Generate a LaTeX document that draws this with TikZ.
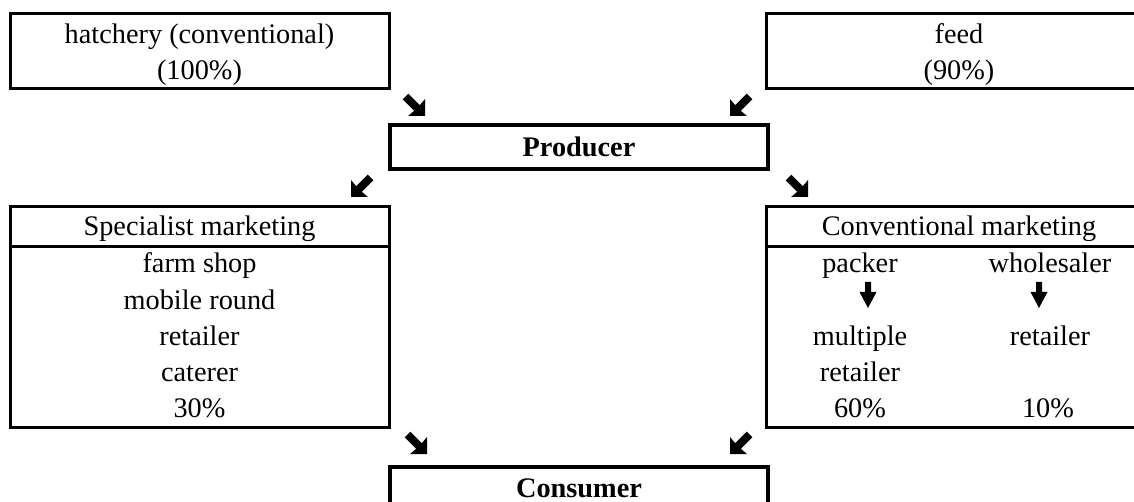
\documentclass[tikz,border=0pt]{standalone}
\usepackage{fontspec}
\setmainfont{Liberation Serif}
\begin{document}
\begin{tikzpicture}[x=1pt,y=-1pt,
  box/.style={draw, line width=3pt, rectangle, inner sep=0pt},
  bbox/.style={draw, line width=4.5pt, rectangle, inner sep=0pt},
  txt/.style={anchor=base, inner sep=0pt, font=\fontsize{28.3}{34}\selectfont},
  btxt/.style={anchor=base, inner sep=0pt, font=\fontsize{28.3}{34}\selectfont\bfseries},
  pics/darr/.style={code={\fill[black] (5.3,-0.3) -- (16.8,11.2) -- (22,5) -- (22,22) -- (5,22) -- (11.2,16.8) -- (-0.3,5.3) -- cycle;}},
  pics/varr/.style={code={\fill[black] (-3,0) -- (3,0) -- (3,10) -- (8.5,10) -- (0,26) -- (-8.5,10) -- (-3,10) -- cycle;}}
]
\useasboundingbox (0,0) rectangle (1134,502);
\fill[white] (0,0) rectangle (1134,502);
\clip (0,0) rectangle (1134,502);

% boxes
\node[box, minimum width=379pt, minimum height=75pt] (hatch) at (199.5,51.5) {};
\node[box, minimum width=386pt, minimum height=75pt] (feed) at (959,51.5) {};
\node[bbox, minimum width=378pt, minimum height=44pt] (prod) at (579,147) {};
\node[box, minimum width=379pt, minimum height=220pt] (spec) at (199.5,317) {};
\node[box, minimum width=386pt, minimum height=220pt] (conv) at (959,317) {};
\node[bbox, minimum width=378pt, minimum height=76pt] (cons) at (579,505) {};

\coordinate (hl) at (0,247);
\draw[line width=3pt] (spec.west |- hl) -- (spec.east |- hl);
\draw[line width=3pt] (conv.west |- hl) -- (conv.east |- hl);

% texts
\node[txt] (t1) at (199.5,44) {hatchery (conventional)};
\node[txt] (t2) at (199.5,80) {(100\%)};
\node[txt] (t3) at (959,44) {feed};
\node[txt] (t4) at (959,80) {(90\%)};
\node[btxt] (tp) at (579,157) {Producer};
\node[btxt] (tc) at (579,497) {Consumer};

\node[txt] (s0) at (199.5,236) {Specialist marketing};
\node[txt] (s1) at (199.5,273) {farm shop};
\node[txt] (s2) at (199.5,309) {mobile round};
\node[txt] (s3) at (199.5,345) {retailer};
\node[txt] (s4) at (199.5,381) {caterer};
\node[txt] (s5) at (199.5,417) {30\%};

\node[txt] (c0) at (959,236) {Conventional marketing};
\node[txt] (c1) at (860,273) {packer};
\node[txt] (c2) at (1050,273) {wholesaler};
\node[txt] (c3) at (860,345) {multiple};
\node[txt] (c4) at (860,381) {retailer};
\node[txt] (c5) at (1050,345) {retailer};
\node[txt] (c6) at (860,417) {60\%};
\node[txt] (c7) at (1048,417) {10\%};

% small arrows
\pic at (868,282) {varr};
\pic at (1039,282) {varr};

\pic at (403,94) {darr};
\pic[xscale=-1] at (752,94) {darr};
\pic[xscale=-1] at (373,175) {darr};
\pic at (786,175) {darr};
\pic at (405,432) {darr};
\pic[xscale=-1] at (752,432) {darr};
\end{tikzpicture}
\end{document}
